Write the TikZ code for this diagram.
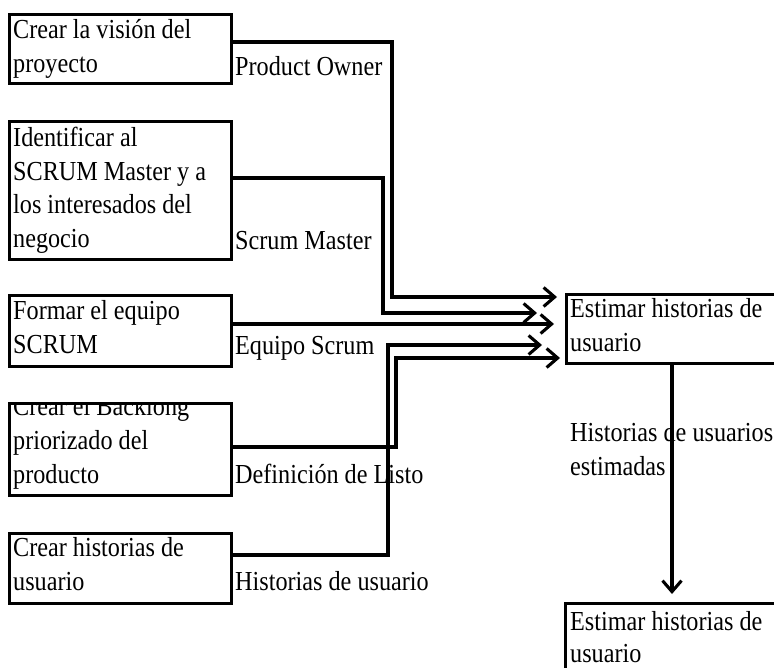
\documentclass[tikz,border=0pt]{standalone}
\usepackage{fontspec}
\setmainfont{Liberation Serif}[FakeStretch=0.88]
\usetikzlibrary{arrows.meta}

\newcommand{\lblfont}[1]{\fontsize{27.5}{#1}\selectfont}

\begin{document}
\begin{tikzpicture}[x=1pt,y=-1pt,
  box/.style={draw, line width=3.2pt, anchor=north west, inner sep=0pt},
  txt/.style={anchor=base west, inner sep=0pt, text width=240pt, align=left,
              font=\lblfont{34},
              execute at begin node={\spaceskip=0.22em\relax\xspaceskip=0.22em\relax}},
  link/.style={line width=3.1pt},
  flow/.style={link, -{Straight Barb[length=11pt,width=19pt,line width=3.1pt]}}
]
\useasboundingbox (0,0) rectangle (774,668);
\clip (0,0) rectangle (774,668);

% process boxes on the left
\node[box, minimum width=222pt, minimum height=69pt]  (b1) at (8,13)  {};
\node[box, minimum width=222pt, minimum height=138pt] (b2) at (8,120) {};
\node[box, minimum width=222pt, minimum height=71pt]  (b3) at (8,294) {};
\node[box, minimum width=222pt, minimum height=92pt]  (b4) at (8,402) {};
\node[box, minimum width=222pt, minimum height=70pt]  (b5) at (8,532) {};

% target boxes on the right
\node[box, minimum width=230pt, minimum height=69pt]  (r1) at (565,293) {};
\node[box, minimum width=230pt, minimum height=90pt]  (r2) at (564,602) {};

% box texts
\node[txt] (t1) at (13,39)  {Crear la visión del\\proyecto};
\node[txt, font=\lblfont{33.5}] (t2) at (13,147)
  {Identificar al\\SCRUM Master y a\\los interesados del\\negocio};
\node[txt] (t3) at (13,320) {Formar el equipo\\SCRUM};
\begin{scope}
  \clip (8,402) rectangle (230,494);
  \node[txt] (t4) at (13,415) {Crear el Backlong\\priorizado del\\producto};
\end{scope}
\node[txt] (t5) at (13,556) {Crear historias de\\usuario};
\node[txt] (tr1) at (570,318) {Estimar historias de\\usuario};
\node[txt, font=\lblfont{32}] (tr2) at (570,630)
  {Estimar historias de\\usuario};

% connector labels
\node[txt] (l1) at (235,76)  {Product Owner};
\node[txt] (l2) at (235,250) {Scrum Master};
\node[txt] (l3) at (235,355) {Equipo Scrum};
\node[txt] (l4) at (235,483) {Definición de Listo};
\node[txt] (l5) at (235,590) {Historias de usuario};
\node[txt] (l6) at (570,441) {Historias de usuarios\\estimadas};

% bend points of the connectors
\coordinate (k1) at (392,42);  \coordinate (e1) at (392,297);
\coordinate (k2) at (383,178); \coordinate (e2) at (383,313);
\coordinate (k3) at (300,324);
\coordinate (k4) at (396,447); \coordinate (e4) at (396,358);
\coordinate (k5) at (388,555); \coordinate (e5) at (388,345);
\coordinate (dx) at (672,0);

% inputs into the estimation step
\draw[flow, shorten >=8pt]  (b1.east |- k1) -- (k1) -- (e1) -- (r1.west |- e1);
\draw[flow, shorten >=28pt] (b2.east |- k2) -- (k2) -- (e2) -- (r1.west |- e2);
\draw[flow, shorten >=11pt] (b3.east |- k3) -- (r1.west |- k3);
\draw[flow, shorten >=5pt]  (b4.east |- k4) -- (k4) -- (e4) -- (r1.west |- e4);
\draw[flow, shorten >=23pt] (b5.east |- k5) -- (k5) -- (e5) -- (r1.west |- e5);

% output of the estimation step
\draw[flow, shorten >=8pt] (r1.south -| dx) -- (r2.north -| dx);
\end{tikzpicture}
\end{document}
